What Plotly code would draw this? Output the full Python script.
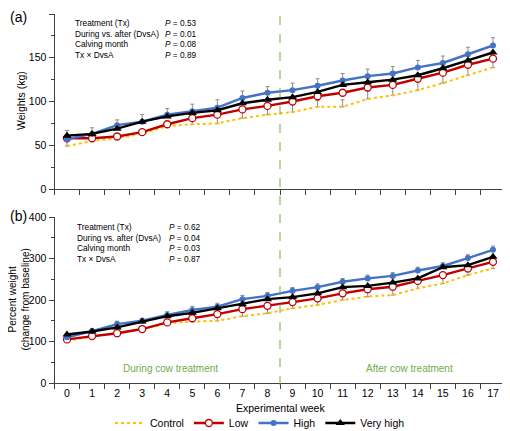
import plotly.graph_objects as go

weeks = [str(w) for w in range(18)]

# Panel (a): body weight (kg)
ctrl_a = [49, 55, 58, 63, 72, 74, 75, 81, 85, 88, 94, 94, 103, 107, 113, 121, 130, 139]
low_a = [58, 58, 60, 65, 74, 81, 85, 91, 95, 100, 106, 110, 116, 119, 126, 133, 142, 149]
high_a = [57, 63, 73, 77, 85, 89, 93, 104, 110, 113, 118, 124, 129, 132, 139, 144, 154, 164]
vhigh_a = [61, 63, 69, 77, 83, 87, 90, 98, 102, 105, 111, 119, 122, 125, 130, 138, 147, 156]
ctrl_a_err = [8, 5, 4, 3, 3, 6, 10, 10, 10, 11, 7, 8, 9, 9, 10, 9, 9, 8]
high_a_err = [10, 7, 6, 8, 7, 8, 9, 8, 7, 8, 8, 8, 8, 8, 8, 8, 8, 9]

# Panel (b): percent weight (change from baseline)
ctrl_b = [102, 112, 120, 130, 144, 148, 150, 161, 168, 180, 188, 200, 208, 212, 228, 240, 260, 276]
low_b = [105, 113, 120, 130, 146, 156, 166, 178, 186, 195, 204, 216, 226, 232, 246, 260, 276, 292]
high_b = [110, 125, 142, 150, 164, 176, 184, 202, 210, 222, 231, 244, 252, 258, 271, 282, 301, 321]
vhigh_b = [117, 124, 134, 148, 161, 169, 180, 190, 202, 207, 216, 231, 234, 242, 252, 279, 284, 304]
ctrl_b_err = [5, 4, 5, 5, 6, 8, 14, 16, 18, 15, 16, 16, 18, 20, 18, 20, 16, 16]
high_b_err = [6, 6, 7, 6, 8, 9, 8, 9, 8, 8, 8, 8, 8, 8, 8, 8, 8, 9]

yticks_a = [0, 50, 100, 150, 200]
yticks_b = [0, 100, 200, 300, 400]

stats_labels = ["Treatment (Tx)", "During vs. after (DvsA)", "Calving month", "Tx \u00d7 DvsA"]
stats_a = ["0.53", "0.01", "0.08", "0.89"]
stats_b = ["0.62", "0.04", "0.03", "0.87"]

FONT = "Liberation Sans, Arial, sans-serif"
GRAY = "#8c8c8c"
OFF = 8  # page body margin
W, H = 510 - OFF, 431 - OFF


def px(x):
    return (x - OFF) / W


def py(y):
    return 1 - (y - OFF) / H


fig = go.Figure()


def add_panel(xa, ya, ctrl, low, high, vhigh, ctrl_err, high_err, show):
    fig.add_trace(go.Scatter(
        x=weeks, y=ctrl, name="Control", mode="lines", xaxis=xa, yaxis=ya,
        line=dict(color="#FFC000", width=2, dash="dot"), showlegend=show,
        error_y=dict(type="data", array=ctrl_err, arrayminus=[0] * len(ctrl_err),
                     symmetric=False, color=GRAY, thickness=1, width=2)))
    fig.add_trace(go.Scatter(
        x=weeks, y=low, name="Low", mode="lines+markers", xaxis=xa, yaxis=ya,
        line=dict(color="#C00000", width=2.4), showlegend=show,
        marker=dict(symbol="circle", size=7, color="white",
                    line=dict(color="#C00000", width=1.3))))
    fig.add_trace(go.Scatter(
        x=weeks, y=high, name="High", mode="lines+markers", xaxis=xa, yaxis=ya,
        line=dict(color="#4472C4", width=2.4), showlegend=show,
        marker=dict(symbol="circle", size=6, color="#4472C4"),
        error_y=dict(type="data", array=high_err, arrayminus=[0] * len(high_err),
                     symmetric=False, color=GRAY, thickness=1, width=2)))
    fig.add_trace(go.Scatter(
        x=weeks, y=vhigh, name="Very high", mode="lines+markers", xaxis=xa, yaxis=ya,
        line=dict(color="#000000", width=2.4), showlegend=show,
        marker=dict(symbol="triangle-up", size=8, color="#000000")))


add_panel("x", "y", ctrl_a, low_a, high_a, vhigh_a, ctrl_a_err, high_a_err, True)
add_panel("x2", "y2", ctrl_b, low_b, high_b, vhigh_b, ctrl_b_err, high_b_err, False)

axis_common = dict(showline=True, linecolor="#404040", linewidth=1, ticks="outside",
                   tickcolor="#404040", ticklen=5, showgrid=False, zeroline=False,
                   automargin=False,
                   tickfont=dict(family=FONT, size=10.5, color="#000"))

xdom = [px(54.5), px(505.5)]
fig.update_layout(
    width=W, height=H, margin=dict(l=0, r=0, t=0, b=0, autoexpand=False),
    paper_bgcolor="white", plot_bgcolor="white",
    font=dict(family=FONT, color="#000"),
    xaxis=dict(domain=xdom, anchor="y", type="category", tickson="boundaries",
               showticklabels=False, range=[-0.5, 17.5], **axis_common),
    yaxis=dict(domain=[py(189), py(14)], anchor="x", range=[0, 200], tickvals=yticks_a,
               minor=dict(ticks="outside", ticklen=3, tickcolor="#404040", dtick=25),
               **axis_common),
    xaxis2=dict(domain=xdom, anchor="y2", type="category", tickson="boundaries",
                range=[-0.5, 17.5], **axis_common),
    yaxis2=dict(domain=[py(383), py(217)], anchor="x2", range=[0, 400], tickvals=yticks_b,
                minor=dict(ticks="outside", ticklen=3, tickcolor="#404040", dtick=50),
                **axis_common),
    legend=dict(orientation="h", x=px(260), xanchor="center", y=py(423), yanchor="middle",
                font=dict(family=FONT, size=10.5), bgcolor="rgba(0,0,0,0)",
                itemwidth=30, tracegroupgap=0),
)

fig.add_shape(type="line", xref="x2", yref="paper", x0=8.5, x1=8.5,
              y0=py(385), y1=py(16), line=dict(color="#70AD47", width=1, dash="dash"))

ann = []
ann.append(dict(text="(a)", x=px(8), y=py(17), xanchor="left", yanchor="middle",
                font=dict(size=14)))
ann.append(dict(text="(b)", x=px(8), y=py(216), xanchor="left", yanchor="middle",
                font=dict(size=14)))
ann.append(dict(text="Weights (kg)", x=px(21), y=py(101), textangle=-90,
                xanchor="center", yanchor="middle", font=dict(size=10.5)))
ann.append(dict(text="Percent weight<br>(change from baseline)", x=px(18.5), y=py(300),
                textangle=-90, xanchor="center", yanchor="middle", font=dict(size=10)))
ann.append(dict(text="Experimental week", x=px(280), y=py(408), xanchor="center",
                yanchor="middle", font=dict(size=10.5)))
ann.append(dict(text="During cow treatment", x=px(170), y=py(368), xanchor="center",
                yanchor="middle", font=dict(size=10, color="#70AD47")))
ann.append(dict(text="After cow treatment", x=px(409), y=py(368), xanchor="center",
                yanchor="middle", font=dict(size=10, color="#70AD47")))

for i, (lab, pa, pb) in enumerate(zip(stats_labels, stats_a, stats_b)):
    ya_ = 23 + i * 10.7
    yb_ = 227 + i * 10.7
    ann.append(dict(text=lab, x=px(73), y=py(ya_), xanchor="left", yanchor="middle",
                    font=dict(size=8.3)))
    ann.append(dict(text="<i>P</i> = " + pa, x=px(163), y=py(ya_), xanchor="left",
                    yanchor="middle", font=dict(size=8.3)))
    ann.append(dict(text=lab, x=px(75), y=py(yb_), xanchor="left", yanchor="middle",
                    font=dict(size=8.3)))
    ann.append(dict(text="<i>P</i> = " + pb, x=px(167), y=py(yb_), xanchor="left",
                    yanchor="middle", font=dict(size=8.3)))

for a in ann:
    a.update(xref="paper", yref="paper", showarrow=False)
    a.setdefault("font", {})
    a["font"].setdefault("family", FONT)
    a["font"].setdefault("color", "#000")
fig.update_layout(annotations=ann)

fig.write_html("out.html")
